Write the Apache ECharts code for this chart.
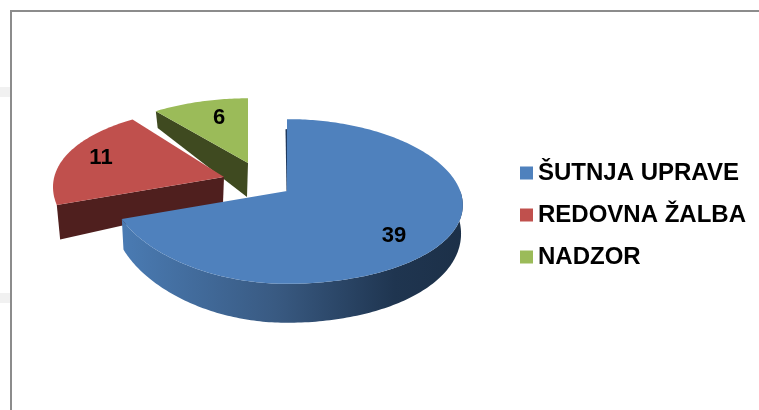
<!DOCTYPE html>
<html>
<head>
<meta charset="utf-8">
<style>
  html, body { margin: 0; padding: 0; background: #fff; }
  #main { width: 759px; height: 410px; }
</style>
<script src="https://cdn.jsdelivr.net/npm/echarts@6/dist/echarts.min.js"></script>
</head>
<body>
<div id="main"></div>
<script>
var categories = ['ŠUTNJA UPRAVE', 'REDOVNA ŽALBA', 'NADZOR'];
var values = [39, 11, 6];
var colors = ['#4f81bd', '#c0504d', '#9bbb59'];
var cutColors = [null, '#4f1f1e', '#3f4a20'];

// where each exploded slice sits, pie is tilted so y gets squashed
var layout = [
  { apex: [287, 191], sxL: 1, sxR: 0.99, sy: 1, kL: 0.235, kR: 0.17, shear: 0, extraDepth: 0, shrink: 0.99, apexDepth: 30, label: [394, 236], z: 3 },
  { apex: [224, 177], sxL: 0.97, sxR: 1, sy: 1, kL: 0, kR: 0, shear: -0.25, extraDepth: 4, shrink: 0.98, apexDepth: 26, label: [101, 158], z: 2 },
  { apex: [248, 163], sxL: 1, sxR: 1, sy: 0.9, kL: 0.235, kR: 0, shear: 0, extraDepth: 0, shrink: 0.98, apexDepth: 34, label: [219, 118], z: 1 }
];
var RX = 175, RY = 81, KY = 0.127;

var total = values.reduce(function (a, b) { return a + b; }, 0);

function rimPoint(deg, lay) {
  var t = deg * Math.PI / 180;
  var u = Math.sin(t), v = Math.cos(t);
  var x = u >= 0
    ? RX * lay.sxR * u / (1 + lay.kR * v)
    : RX * lay.sxL * u / (1 + lay.kL * Math.max(v, 0));
  var y = -RY * lay.sy * v / (1 + KY * v);
  return { x: lay.apex[0] + x + lay.shear * y, y: lay.apex[1] + y, v: v };
}

function lowered(p, lay) {
  var depth = 26.5 - 12.5 * p.v + lay.extraDepth;
  return [lay.apex[0] + (p.x - lay.apex[0]) * lay.shrink, p.y + depth];
}

function renderSlice(params, api) {
  var idx = params.seriesIndex;
  var lay = layout[idx];
  var val = api.value(0);
  var before = values.slice(0, idx).reduce(function (a, b) { return a + b; }, 0);
  var start = before / total * 360;
  var end = (before + val) / total * 360;
  var children = [];

  var top = [lay.apex.slice()];
  for (var d = start; d <= end + 0.001; d += 1) {
    var p = rimPoint(Math.min(d, end), lay);
    top.push([p.x, p.y]);
  }
  var last = rimPoint(end, lay);
  top.push([last.x, last.y]);

  // blue one shows the outside wall, the other two show the cut face
  if (idx === 0) {
    var upper = [], lower = [];
    for (var a = 90; a <= end; a += 1) {
      var q = rimPoint(a, lay);
      upper.push([q.x, q.y]);
      lower.unshift(lowered(q, lay));
    }
    upper.push([last.x, last.y]);
    lower.unshift(lowered(last, lay));
    children.push({
      type: 'polygon',
      shape: { points: upper.concat(lower) },
      style: {
        fill: {
          type: 'linear', x: 0, y: 0, x2: 1, y2: 0,
          colorStops: [
            { offset: 0, color: '#4a7bb3' },
            { offset: 0.45, color: '#395a82' },
            { offset: 0.8, color: '#1f3550' },
            { offset: 1, color: '#1c3048' }
          ]
        }
      }
    });
    // thin dark sliver of the far cut
    var fr = rimPoint(start, lay);
    children.push({
      type: 'line',
      shape: { x1: fr.x - 0.5, y1: fr.y + 10, x2: lay.apex[0] + 0.5, y2: lay.apex[1] },
      style: { stroke: '#1f3a5f', lineWidth: 2 }
    });
  } else {
    var s = rimPoint(start, lay);
    children.push({
      type: 'polygon',
      shape: {
        points: [
          [s.x, s.y],
          lay.apex.slice(),
          [lay.apex[0] - 1, lay.apex[1] + lay.apexDepth],
          lowered(s, lay)
        ]
      },
      style: { fill: cutColors[idx] }
    });
  }

  children.push({
    type: 'polygon',
    shape: { points: top },
    style: { fill: colors[idx] }
  });
  children.push({
    type: 'text',
    z2: 10,
    style: {
      x: lay.label[0], y: lay.label[1],
      text: String(val),
      fill: '#000',
      font: 'bold 22px "Liberation Sans", Arial, sans-serif',
      align: 'center', verticalAlign: 'middle'
    }
  });
  return { type: 'group', children: children };
}

var chart = echarts.init(document.getElementById('main'), null, { renderer: 'canvas' });

var option = {
  backgroundColor: '#ffffff',
  animation: false,
  legend: {
    orient: 'vertical',
    left: 515,
    top: 156,
    icon: 'rect',
    itemWidth: 13,
    itemHeight: 13,
    itemGap: 18,
    data: categories,
    textStyle: {
      color: '#000',
      fontSize: 24,
      lineHeight: 24,
      fontWeight: 'bold',
      fontFamily: '"Liberation Sans", Arial, sans-serif'
    }
  },
  graphic: [
    { type: 'rect', shape: { x: 0, y: 87, width: 10, height: 10 }, style: { fill: '#f1f1f1' } },
    { type: 'rect', shape: { x: 0, y: 293, width: 10, height: 10 }, style: { fill: '#f1f1f1' } },
    { type: 'rect', shape: { x: 10, y: 10, width: 749, height: 2 }, style: { fill: '#8c8c8c' } },
    { type: 'rect', shape: { x: 10, y: 10, width: 2, height: 400 }, style: { fill: '#8c8c8c' } }
  ],
  series: categories.map(function (name, i) {
    return {
      type: 'custom',
      name: name,
      coordinateSystem: 'none',
      z: layout[i].z,
      silent: true,
      itemStyle: { color: colors[i] },
      renderItem: renderSlice,
      data: [[values[i]]]
    };
  })
};

chart.setOption(option);
</script>
</body>
</html>
